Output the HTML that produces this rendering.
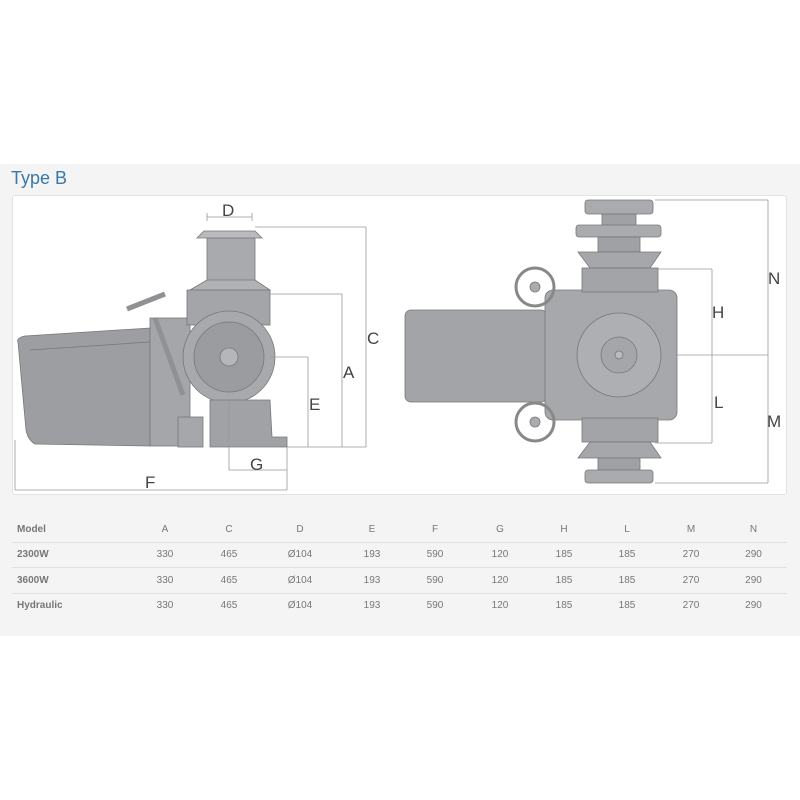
<!DOCTYPE html>
<html><head><meta charset="utf-8"><style>
body{margin:0;width:800px;height:800px;background:#fff;font-family:"Liberation Sans",sans-serif;position:relative;overflow:hidden}
.panel{position:absolute;left:0;top:164px;width:800px;height:472px;background:#f4f4f4}
.title{position:absolute;left:11px;top:168px;font-size:18px;color:#3a78a8}
.box{position:absolute;left:12px;top:195px;width:775px;height:300px;background:#fff;border:1px solid #e2e2e2;border-radius:3px;box-sizing:border-box}
svg{position:absolute;left:0;top:0}
table{position:absolute;left:12px;top:517px;width:775px;border-collapse:collapse;font-size:10px;color:#777;table-layout:fixed}
td{height:24.5px;text-align:center;padding:0;border-top:1px solid #e0e0e0}
tr:first-child td{border-top:none}
td:first-child{text-align:left;padding-left:5px;font-weight:bold}
</style></head><body>
<div class="panel"></div>
<div class="title">Type B</div>
<div class="box"></div>
<svg width="800" height="800" viewBox="0 0 800 800">
<g stroke="#777" stroke-width="0.8" fill="#a9abae">
<path d="M18 342 Q16 338 25 336 L150 328 L150 446 L35 444 Q28 440 26 430 Z" fill="#9c9ea1"/>
<path d="M30 350 L150 342" fill="none"/>
<rect x="150" y="318" width="40" height="128" fill="#a4a6a9"/>
<line x1="155" y1="318" x2="183" y2="395" stroke-width="5" stroke="#8f9194"/>
<line x1="127" y1="309" x2="165" y2="294" stroke-width="5" stroke="#8f9194"/>
<rect x="207" y="238" width="48" height="44" fill="#a8aaad"/>
<path d="M197 238 L262 238 L255 231 L204 231 Z" fill="#b8babd"/>
<path d="M207 280 L255 280 L270 290 L190 290 Z" fill="#b0b2b5"/>
<rect x="187" y="290" width="83" height="35" fill="#a3a5a8"/>
<circle cx="229" cy="357" r="46" fill="#a7a9ac"/>
<circle cx="229" cy="357" r="35" fill="#9a9ca0"/>
<circle cx="229" cy="357" r="9" fill="#b4b6b9"/>
<path d="M210 400 L270 400 L272 437 L287 437 L287 447 L210 447 Z" fill="#a0a2a5"/>
<rect x="178" y="417" width="25" height="30" fill="#a5a7aa"/>
<rect x="405" y="310" width="142" height="92" rx="6" fill="#a2a4a7"/>
<rect x="545" y="290" width="132" height="130" rx="8" fill="#a6a8ab"/>
<circle cx="619" cy="355" r="42" fill="#adafb2"/>
<circle cx="619" cy="355" r="18" fill="#a4a6a9"/>
<circle cx="619" cy="355" r="4" fill="#b8babd"/>
<rect x="585" y="200" width="68" height="14" rx="3" fill="#a9abae"/>
<rect x="602" y="214" width="34" height="12" fill="#9fa1a4"/>
<rect x="576" y="225" width="85" height="12" rx="3" fill="#a9abae"/>
<rect x="598" y="237" width="42" height="15" fill="#9fa1a4"/>
<path d="M578 252 L661 252 L650 268 L590 268 Z" fill="#a5a7aa"/>
<rect x="582" y="268" width="76" height="24" fill="#a2a4a7"/>
<rect x="582" y="418" width="76" height="24" fill="#a2a4a7"/>
<path d="M590 442 L650 442 L661 458 L578 458 Z" fill="#a5a7aa"/>
<rect x="598" y="458" width="42" height="12" fill="#9fa1a4"/>
<rect x="585" y="470" width="68" height="13" rx="3" fill="#a9abae"/>
<g fill="none" stroke="#888" stroke-width="3"><circle cx="535" cy="287" r="19"/><circle cx="535" cy="422" r="19"/></g>
<circle cx="535" cy="287" r="5"/><circle cx="535" cy="422" r="5"/>
</g>
<g stroke="#999" stroke-width="0.8" fill="none">
<path d="M207 217 H252 M207 213 V221 M252 213 V221"/>
<path d="M255 227 H366 M366 227 V447 M270 294 H342 M342 294 V447 M270 357 H308 M308 357 V447 M287 447 H366"/>
<path d="M229 400 V470 M229 470 H287 M287 447 V490 M15 490 H287 M15 440 V490"/>
<path d="M655 200 H768 M768 200 V483 M655 483 H768 M655 269 H712 M712 269 V443 M655 443 H712 M675 355 H768"/>
</g>
<g font-size="17" fill="#444" font-family="Liberation Sans,sans-serif">
<text x="222" y="216">D</text><text x="367" y="344">C</text><text x="343" y="378">A</text>
<text x="309" y="410">E</text><text x="250" y="470">G</text><text x="145" y="488">F</text>
<text x="712" y="318">H</text><text x="714" y="408">L</text><text x="768" y="284">N</text><text x="767" y="427">M</text>
</g>
</svg>
<table>
<colgroup><col style="width:122px"><col style="width:62px"><col style="width:66px"><col style="width:76px"><col style="width:68px"><col style="width:58px"><col style="width:72px"><col style="width:56px"><col style="width:70px"><col style="width:58px"><col style="width:67px"></colgroup>
<tr><td>Model</td><td>A</td><td>C</td><td>D</td><td>E</td><td>F</td><td>G</td><td>H</td><td>L</td><td>M</td><td>N</td></tr>
<tr><td>2300W</td><td>330</td><td>465</td><td>Ø104</td><td>193</td><td>590</td><td>120</td><td>185</td><td>185</td><td>270</td><td>290</td></tr>
<tr><td>3600W</td><td>330</td><td>465</td><td>Ø104</td><td>193</td><td>590</td><td>120</td><td>185</td><td>185</td><td>270</td><td>290</td></tr>
<tr><td>Hydraulic</td><td>330</td><td>465</td><td>Ø104</td><td>193</td><td>590</td><td>120</td><td>185</td><td>185</td><td>270</td><td>290</td></tr>
</table>
</body></html>
